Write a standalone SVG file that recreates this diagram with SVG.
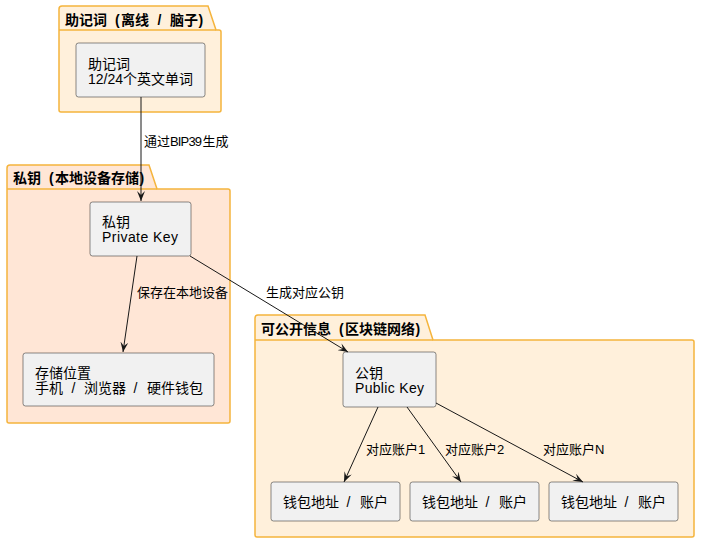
<svg xmlns="http://www.w3.org/2000/svg" width="701" height="544" viewBox="0 0 701 544">
<defs>
<style>
.pkg{stroke:#F5B43C;stroke-width:1.5}
.p1{fill:#FFF0DB}
.p2{fill:#FFE6D6}
.node{fill:#F1F1F1;stroke:#181818;stroke-width:0.5}
.t{font-family:"Liberation Sans","Noto Sans CJK SC",sans-serif;font-size:14px;fill:#000}
.title{font-family:"Liberation Sans","Noto Sans CJK SC",sans-serif;font-size:14px;font-weight:bold;fill:#000}
.lbl{font-family:"Liberation Sans","Noto Sans CJK SC",sans-serif;font-size:13px;fill:#000}
.edge{stroke:#181818;stroke-width:1;fill:none;marker-end:url(#arr)}
</style>
<marker id="arr" viewBox="0 0 10 8" refX="10" refY="4" markerWidth="10" markerHeight="8" markerUnits="userSpaceOnUse" orient="auto">
<path d="M0,0 L10,4 L0,8 L4,4 Z" fill="#181818"/>
</marker>
</defs>
<rect width="701" height="544" fill="#FFFFFF"/>

<g id="pkg-mnemonic">
<path class="pkg p1" d="M59,30 L59,9 Q59,6 62,6 L208,6 L216,30 L219,30 Q221,30 221,32 L221,110 Q221,112 219,112 L61,112 Q59,112 59,110 Z"/>
<line class="pkg" x1="59" y1="30" x2="216" y2="30"/>
<text class="title" y="25"><tspan x="65">助记词 </tspan><tspan x="115">(</tspan><tspan x="121">离线 </tspan><tspan x="157.5">/ </tspan><tspan x="170">脑子</tspan><tspan x="198.5">)</tspan></text>
</g>

<g id="pkg-private">
<path class="pkg p2" d="M7,189 L7,168 Q7,165 10,165 L149,165 L157,189 L228,189 Q230,189 230,191 L230,421 Q230,423 228,423 L9,423 Q7,423 7,421 Z"/>
<line class="pkg" x1="7" y1="189" x2="157" y2="189"/>
<text class="title" y="183"><tspan x="13">私钥 </tspan><tspan x="49">(</tspan><tspan x="55">本地设备存储</tspan><tspan x="139.5">)</tspan></text>
</g>

<g id="pkg-public">
<path class="pkg p1" d="M255,340 L255,318 Q255,315 258,315 L425,315 L433,340 L692,340 Q694,340 694,342 L694,535 Q694,537 692,537 L257,537 Q255,537 255,535 Z"/>
<line class="pkg" x1="255" y1="340" x2="433" y2="340"/>
<text class="title" y="334"><tspan x="261">可公开信息 </tspan><tspan x="339">(</tspan><tspan x="345">区块链网络</tspan><tspan x="415.5">)</tspan></text>
</g>

<g id="node-mnemonic">
<rect class="node" x="76" y="43" width="129" height="54" rx="2.5"/>
<text class="t" x="88" y="69">助记词</text>
<text class="t" y="84"><tspan x="88" textLength="35" lengthAdjust="spacing">12/24</tspan><tspan x="123">个英文单词</tspan></text>
</g>

<g id="node-private">
<rect class="node" x="90" y="202" width="101" height="54" rx="2.5"/>
<text class="t" x="102" y="227">私钥</text>
<text class="t" x="102" y="242" textLength="76" lengthAdjust="spacing">Private Key</text>
</g>

<g id="node-storage">
<rect class="node" x="23" y="353" width="191" height="53" rx="2.5"/>
<text class="t" x="35" y="378">存储位置</text>
<text class="t" y="393"><tspan x="35">手机 </tspan><tspan x="71.5">/ </tspan><tspan x="84">浏览器 </tspan><tspan x="133.5">/ </tspan><tspan x="147">硬件钱包</tspan></text>
</g>

<g id="node-public">
<rect class="node" x="343" y="352" width="93" height="55" rx="2.5"/>
<text class="t" x="355" y="378">公钥</text>
<text class="t" x="355" y="393" textLength="69" lengthAdjust="spacing">Public Key</text>
</g>

<g id="node-addr1">
<rect class="node" x="271" y="482" width="129" height="39" rx="2.5"/>
<text class="t" y="507"><tspan x="283">钱包地址 </tspan><tspan x="346.5">/ </tspan><tspan x="360">账户</tspan></text>
</g>

<g id="node-addr2">
<rect class="node" x="410" y="482" width="129" height="39" rx="2.5"/>
<text class="t" y="507"><tspan x="422">钱包地址 </tspan><tspan x="485.5">/ </tspan><tspan x="499">账户</tspan></text>
</g>

<g id="node-addr3">
<rect class="node" x="549" y="482" width="129" height="39" rx="2.5"/>
<text class="t" y="507"><tspan x="561">钱包地址 </tspan><tspan x="624.5">/ </tspan><tspan x="638">账户</tspan></text>
</g>

<g id="connectors">
<line class="edge" x1="141" y1="97" x2="141" y2="201"/>
<text class="lbl" y="146"><tspan x="144">通过</tspan><tspan x="170" textLength="32" lengthAdjust="spacing">BIP39</tspan><tspan x="202.5">生成</tspan></text>
<line class="edge" x1="137" y1="256" x2="123" y2="352"/>
<text class="lbl" x="137" y="297">保存在本地设备</text>
<line class="edge" x1="190" y1="256" x2="348" y2="352"/>
<text class="lbl" x="266" y="297">生成对应公钥</text>
<line class="edge" x1="378" y1="407" x2="344" y2="482"/>
<text class="lbl" y="454"><tspan x="366">对应账户</tspan><tspan x="418">1</tspan></text>
<line class="edge" x1="407" y1="407" x2="461" y2="482"/>
<text class="lbl" y="454"><tspan x="445">对应账户</tspan><tspan x="497">2</tspan></text>
<line class="edge" x1="436" y1="403" x2="583" y2="482"/>
<text class="lbl" y="454"><tspan x="543">对应账户</tspan><tspan x="595">N</tspan></text>
</g>
</svg>
